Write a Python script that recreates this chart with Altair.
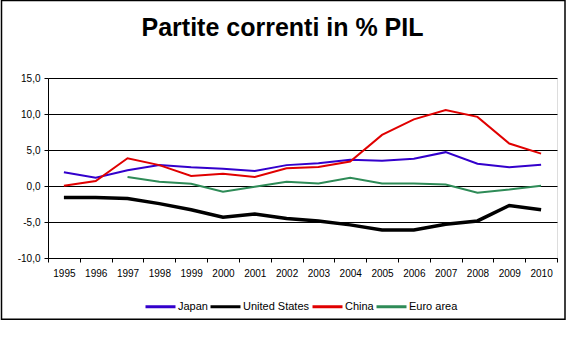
import altair as alt
import pandas as pd

years = [str(y) for y in range(1995, 2011)]
japan = [1.9, 1.15, 2.2, 2.9, 2.6, 2.4, 2.1, 2.9, 3.15, 3.65, 3.5, 3.8, 4.7, 3.1, 2.6, 2.95]
us = [-1.6, -1.6, -1.75, -2.45, -3.3, -4.35, -3.9, -4.5, -4.85, -5.4, -6.1, -6.1, -5.3, -4.85, -2.7, -3.3]
china = [0.05, 0.7, 3.85, 2.9, 1.4, 1.7, 1.25, 2.45, 2.65, 3.4, 7.1, 9.25, 10.55, 9.6, 5.9, 4.5]
euro_years = years[2:]
euro = [1.25, 0.6, 0.3, -0.8, -0.1, 0.6, 0.35, 1.15, 0.35, 0.35, 0.2, -0.95, -0.5, 0.05]

series = ["Japan", "United States", "China", "Euro area"]
colors = ["#3300CC", "#000000", "#E00000", "#2E8B57"]
widths = {"Japan": 2, "United States": 3.5, "China": 2, "Euro area": 2}

rows = []
for name, xs, vals in [("Japan", years, japan), ("United States", years, us),
                       ("China", years, china), ("Euro area", euro_years, euro)]:
    for x, v in zip(xs, vals):
        rows.append({"Year": x, "Value": v, "Country": name, "W": widths[name]})
df = pd.DataFrame(rows)

FONT = "Liberation Sans"

lines = alt.Chart(df).mark_line().encode(
    x=alt.X("Year:O", sort=years, scale=alt.Scale(domain=years, paddingInner=0, paddingOuter=0),
            axis=alt.Axis(title=None, labelAngle=0, tickBand="extent", tickSize=4,
                          labelPadding=6, labelFontSize=10, labelFont=FONT, labelColor="black",
                          domainColor="black", tickColor="black", grid=False)),
    y=alt.Y("Value:Q", scale=alt.Scale(domain=[-10, 15], nice=False, zero=False),
            axis=alt.Axis(title=None, values=[-10, -5, 0, 5, 10, 15], tickSize=4,
                          labelPadding=4, labelFontSize=10, labelFont=FONT, labelColor="black",
                          labelExpr="replace(replace(format(datum.value, '.1f'), '.', ','), '\u2212', '-')",
                          domainColor="black", tickColor="black", gridColor="black",
                          gridOpacity=1, gridWidth=1)),
    color=alt.Color("Country:N", sort=series, scale=alt.Scale(domain=series, range=colors),
                    legend=alt.Legend(title=None, orient="none", direction="horizontal",
                                      legendX=96, legendY=212, symbolType="stroke",
                                      symbolSize=900, symbolStrokeWidth=3, labelFontSize=11,
                                      labelFont=FONT, labelColor="black", labelOffset=1,
                                      columnPadding=-4, columns=4)),
    strokeWidth=alt.StrokeWidth("W:Q", scale=None),
    detail="Country:N",
)

frame = alt.Chart(pd.DataFrame({"a": [0]})).mark_rect(
    fill=None, stroke="black", strokeWidth=1.5, clip=False
).encode(x=alt.value(-46.5), x2=alt.value(517), y=alt.value(-77.5), y2=alt.value(241.2))

chart = alt.layer(frame, lines).properties(
    width=509, height=180,
    autosize=alt.AutoSizeParams(type="none"),
    padding={"left": 48, "top": 78, "right": 11, "bottom": 84},
    title=alt.TitleParams("Partite correnti in % PIL", font=FONT, fontSize=25, fontWeight="bold",
                          color="black", anchor="middle", offset=-41, dx=-20),
).configure_view(stroke=None).configure(background="white")

chart.save("out.html", embed_options={"renderer": "svg", "actions": False})
